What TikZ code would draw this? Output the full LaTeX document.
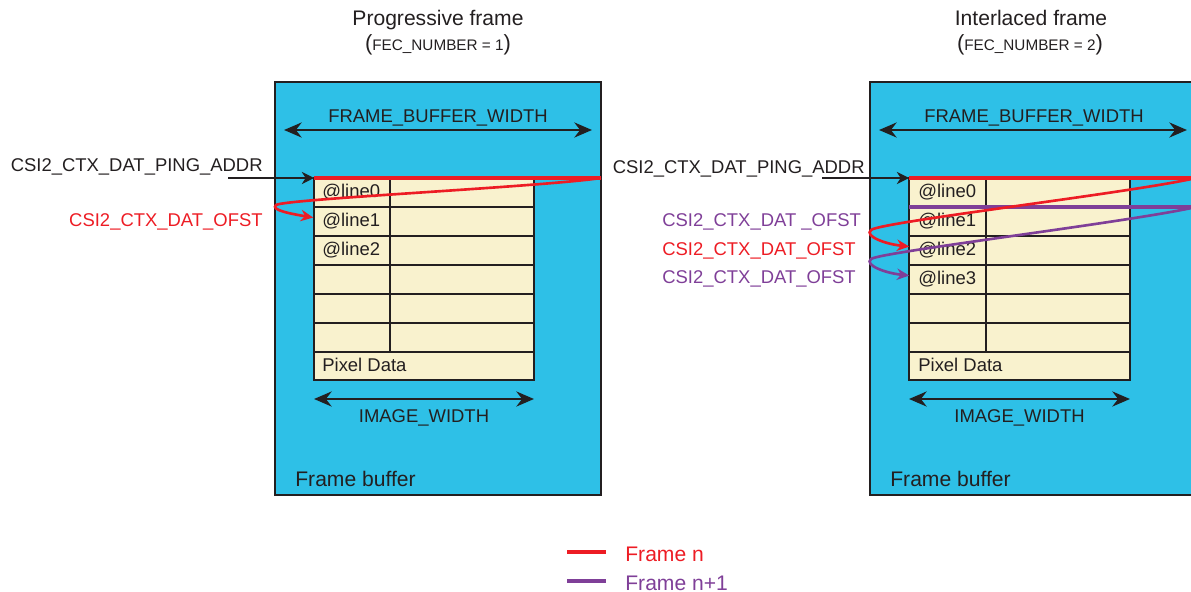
\documentclass[tikz,border=0pt]{standalone}
\usepackage{fontspec}
\setmainfont{Liberation Sans}
\usetikzlibrary{arrows.meta}

\definecolor{fbcyan}{RGB}{46,192,231}
\definecolor{pixcream}{RGB}{249,242,206}
\definecolor{ink}{RGB}{35,31,32}
\definecolor{framered}{RGB}{237,28,36}
\definecolor{framepurple}{RGB}{127,63,152}

\begin{document}
\begin{tikzpicture}[x=0.02cm, y=-0.02cm,
    lbl/.style={font=\fontsize{10.5}{12}\selectfont, text=ink, inner sep=0pt, anchor=base},
    bigtxt/.style={font=\fontsize{12}{14}\selectfont, text=ink, inner sep=0pt, anchor=base},
    smalltxt/.style={font=\fontsize{8.7}{10}\selectfont, text=ink, inner sep=0pt, anchor=base},
    fbuf/.style={draw=ink, line width=1.6pt, fill=fbcyan},
    pixtab/.style={draw=ink, line width=1.3pt, fill=pixcream},
    rowline/.style={draw=ink, line width=0.6pt},
    widtharr/.style={{Stealth[length=10pt,width=8.5pt]}-{Stealth[length=10pt,width=8.5pt]},
                     line width=1.6pt, draw=ink},
    ptr/.style={-{Stealth[length=7pt,width=7pt]}, line width=0.7pt, draw=ink},
    redln/.style={line width=1.5pt, draw=framered},
    purpln/.style={line width=1.5pt, draw=framepurple},
    tip/.style={-{Stealth[length=7pt,width=6.5pt]}}
]
    \clip (0,0) rectangle (1191,592);

    % progressive frame
    \node[bigtxt]   (ptitle) at (438,25) {Progressive frame};
    \node[smalltxt] (pfec)   at (438,50) {{\fontsize{12.5}{14}\selectfont(}FEC\_NUMBER = 1{\fontsize{12.5}{14}\selectfont)}};

    \draw[fbuf] (275,82) rectangle (601,495);
    \draw[pixtab] (314,178) rectangle (534,380);
    \foreach \r in {207,236,265,294,323,352}
        \draw[rowline] (314,\r) -- (534,\r);
    \draw[rowline] (390,178) -- (390,352);

    \coordinate (pfbl) at (284,130);
    \coordinate (pfbr) at (592,130);
    \coordinate (pimgl) at (314,399);
    \coordinate (pimgr) at (534,399);
    \coordinate (pptr) at (228,178);
    \coordinate (ptab) at (314,178);
    \coordinate (pedge) at (601,178);

    \node[lbl] (pfbw) at (438,122) {FRAME\_BUFFER\_WIDTH};
    \node[lbl] (pimgw) at (424,422) {IMAGE\_WIDTH};
    \node[bigtxt, anchor=base west] (pfb) at (295,486) {Frame buffer};
    \node[lbl, anchor=base west] (pl0) at (322,197.5) {@line0};
    \node[lbl, anchor=base west] (pl1) at (322,226.5) {@line1};
    \node[lbl, anchor=base west] (pl2) at (322,255.5) {@line2};
    \node[lbl, anchor=base west] (ppix) at (322,371) {Pixel Data};
    \node[lbl, anchor=base east] (pping) at (263,171) {CSI2\_CTX\_DAT\_PING\_ADDR};
    \node[lbl, anchor=base east, text=framered] (pofst) at (263,226) {CSI2\_CTX\_DAT\_OFST};

    \draw[widtharr] (pfbl) -- (pfbr);
    \draw[widtharr] (pimgl) -- (pimgr);

    \draw[redln, line width=1.8pt] (ptab) -- (pedge);
    \draw[redln, tip] (pedge) .. controls (540,187) and (285,199) .. (276,205)
        .. controls (270,210) and (292,214) .. ([xshift=-5pt,yshift=2pt]pl1.west);
    \draw[ptr] (pptr) -- (ptab);

    % interlaced frame
    \node[bigtxt]   (ititle) at (1031,25) {Interlaced frame};
    \node[smalltxt] (ifec)   at (1030,50) {{\fontsize{12.5}{14}\selectfont(}FEC\_NUMBER = 2{\fontsize{12.5}{14}\selectfont)}};

    \draw[fbuf] (870,82) rectangle (1196,495);
    \draw[pixtab] (909,178) rectangle (1130,380);
    \foreach \r in {207,236,265,294,323,352}
        \draw[rowline] (909,\r) -- (1130,\r);
    \draw[rowline] (986,178) -- (986,352);

    \coordinate (ifbl) at (879,130);
    \coordinate (ifbr) at (1187,130);
    \coordinate (iimgl) at (909,399);
    \coordinate (iimgr) at (1130,399);
    \coordinate (iptr) at (822,178);
    \coordinate (itab) at (909,178);
    \coordinate (itab1) at (909,207);
    \coordinate (iedge) at (1196,178);
    \coordinate (iedge1) at (1196,207);

    \node[lbl] (ifbw) at (1034,122) {FRAME\_BUFFER\_WIDTH};
    \node[lbl] (iimgw) at (1019.5,422) {IMAGE\_WIDTH};
    \node[bigtxt, anchor=base west] (ifb) at (890,486) {Frame buffer};
    \node[lbl, anchor=base west] (il0) at (918,197.5) {@line0};
    \node[lbl, anchor=base west] (il1) at (918,226.5) {@line1};
    \node[lbl, anchor=base west] (il2) at (918,255.5) {@line2};
    \node[lbl, anchor=base west] (il3) at (918,284.5) {@line3};
    \node[lbl, anchor=base west] (ipix) at (918,371) {Pixel Data};
    \node[lbl, anchor=base east] (iping) at (865,173) {CSI2\_CTX\_DAT\_PING\_ADDR};
    \node[lbl, anchor=base west, text=framepurple] (iofsta) at (662,226) {CSI2\_CTX\_DAT \_OFST};
    \node[lbl, anchor=base west, text=framered] (iofstb) at (662,255) {CSI2\_CTX\_DAT\_OFST};
    \node[lbl, anchor=base west, text=framepurple] (iofstc) at (662,283) {CSI2\_CTX\_DAT\_OFST};

    \draw[widtharr] (ifbl) -- (ifbr);
    \draw[widtharr] (iimgl) -- (iimgr);

    \draw[purpln, line width=1.8pt] (itab1) -- (iedge1);
    \draw[purpln, tip] (iedge1) .. controls (1130,222) and (880,252) .. (871,259)
        .. controls (864,265) and (885,273) .. ([xshift=-5pt,yshift=2pt]il3.west);
    \draw[redln, line width=1.8pt] (itab) -- (iedge);
    \draw[redln, tip] (iedge) .. controls (1130,193) and (880,222) .. (871,230)
        .. controls (864,236) and (885,244) .. ([xshift=-5pt,yshift=2pt]il2.west);
    \draw[ptr] (iptr) -- (itab);

    % legend
    \coordinate (lrn1) at (567,552);
    \coordinate (lrn2) at (606,552);
    \coordinate (lpn1) at (567,581);
    \coordinate (lpn2) at (606,581);
    \draw[redln, line width=1.8pt] (lrn1) -- (lrn2);
    \draw[purpln, line width=1.8pt] (lpn1) -- (lpn2);
    \node[bigtxt, anchor=base west, text=framered] (legn) at (625,561) {Frame n};
    \node[bigtxt, anchor=base west, text=framepurple] (legn1) at (625,590) {Frame n+1};
\end{tikzpicture}
\end{document}
